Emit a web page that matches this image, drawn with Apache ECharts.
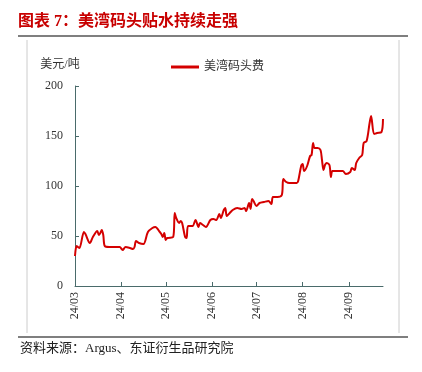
<!DOCTYPE html>
<html>
<head>
<meta charset="utf-8">
<script src="https://cdn.jsdelivr.net/npm/echarts@6/dist/echarts.min.js"></script>
<style>html,body{margin:0;padding:0;background:#fff}#c{width:422px;height:372px}</style>
</head>
<body>
<div id="c"></div>
<script>
const dates = ['2024-03-01','2024-03-02','2024-03-03','2024-03-04','2024-03-07','2024-03-08','2024-03-11','2024-03-13','2024-03-16','2024-03-17','2024-03-18','2024-03-19','2024-03-20','2024-03-21','2024-03-24','2024-03-31',
'2024-04-02','2024-04-04','2024-04-07','2024-04-09','2024-04-10','2024-04-11','2024-04-13','2024-04-16','2024-04-19','2024-04-22','2024-04-24','2024-04-27','2024-04-28','2024-04-29','2024-04-30',
'2024-05-01','2024-05-02','2024-05-06','2024-05-07','2024-05-08','2024-05-10','2024-05-11','2024-05-12','2024-05-14','2024-05-15','2024-05-16','2024-05-19','2024-05-21','2024-05-23','2024-05-24','2024-05-26','2024-05-28','2024-05-31',
'2024-06-02','2024-06-04','2024-06-06','2024-06-07','2024-06-09','2024-06-10','2024-06-11','2024-06-13','2024-06-15','2024-06-18','2024-06-21','2024-06-23','2024-06-24','2024-06-26','2024-06-27','2024-06-28','2024-06-29',
'2024-07-01','2024-07-03','2024-07-06','2024-07-09','2024-07-11','2024-07-12','2024-07-15','2024-07-18','2024-07-19','2024-07-21','2024-07-23','2024-07-28','2024-07-29','2024-07-31',
'2024-08-01','2024-08-02','2024-08-04','2024-08-06','2024-08-07','2024-08-08','2024-08-09','2024-08-11','2024-08-13','2024-08-14','2024-08-15','2024-08-16','2024-08-17','2024-08-19','2024-08-20','2024-08-21','2024-08-24','2024-08-28','2024-08-30',
'2024-09-02','2024-09-03','2024-09-05','2024-09-06','2024-09-08','2024-09-10','2024-09-11','2024-09-13','2024-09-15','2024-09-16','2024-09-18','2024-09-20','2024-09-23','2024-09-24'];
const fees = [30,40,39,38,54,52,43,49,55,51,53,56,51,40,39,39,
36,39,38,37,39,45,43,42,54,58,59,54,52,49,53,
46,48,49,73,68,63,65,63,49,48,60,60,66,59,63,61,59,66,
67,66,72,68,76,78,70,73,76,78,77,78,75,83,77,87,85,
80,83,84,85,82,89,89,91,107,104,103,103,105,120,
122,115,120,130,131,143,138,138,136,126,116,121,123,121,109,115,115,115,112,
114,118,116,123,128,131,143,145,163,170,152,153,154,167];
const yTicks = [0,50,100,150,200];
const seriesName = '美湾码头费';
const unitName = '美元/吨';
const titleText = '图表 7：美湾码头贴水持续走强';
const sourceText = '资料来源：Argus、东证衍生品研究院';

const serif = 'Liberation Serif, Noto Sans CJK SC';
const chart = echarts.init(document.getElementById('c'), null, {renderer:'canvas'});
chart.setOption({
  animation:false,
  backgroundColor:'#fff',
  grid:{left:75,right:39,top:86,bottom:86},
  legend:{
    top:56,left:166,
    icon:'rect',itemWidth:28,itemHeight:3,itemGap:5,
    textStyle:{fontSize:12,color:'#333',fontFamily:serif},
    data:[seriesName]
  },
  xAxis:{
    type:'time',
    min:'2024-03-01',max:'2024-09-24',
    splitNumber:7,
    axisLine:{lineStyle:{color:'#4a6b6b',width:1}},
    axisTick:{show:true,inside:true,length:4,lineStyle:{color:'#4a6b6b'}},
    splitLine:{show:false},
    axisLabel:{
      rotate:90,fontSize:12,color:'#333',fontFamily:serif,margin:6,
      showMinLabel:true,showMaxLabel:false,
      formatter:function(v){const d=new Date(v);const m=d.getMonth()+1;return String(d.getFullYear()%100)+'/'+(m<10?'0':'')+m;}
    }
  },
  yAxis:{
    type:'value',min:yTicks[0],max:yTicks[yTicks.length-1],interval:50,
    name:unitName,nameLocation:'end',nameGap:21,
    nameTextStyle:{fontSize:12,color:'#333',fontFamily:serif,align:'center',verticalAlign:'middle',padding:[0,30,0,0]},
    axisLine:{show:true,lineStyle:{color:'#4a6b6b',width:1}},
    axisTick:{show:true,inside:true,length:4,lineStyle:{color:'#4a6b6b'}},
    splitLine:{show:false},
    axisLabel:{fontSize:12,color:'#333',fontFamily:serif,margin:12}
  },
  series:[{
    name:seriesName,type:'line',
    data:dates.map((d,i)=>[d,fees[i]]),
    showSymbol:false,smooth:0.3,
    lineStyle:{color:'#d40000',width:2},
    itemStyle:{color:'#d40000'}
  }],
  graphic:[
    {type:'text',left:18,top:14,style:{text:titleText,fill:'#c80000',font:'bold 16px Liberation Serif, Noto Sans CJK SC'}},
    {type:'line',shape:{x1:18,y1:36,x2:408,y2:36},style:{stroke:'#000',lineWidth:1.2}},
    {type:'line',shape:{x1:27,y1:40,x2:27,y2:333},style:{stroke:'#cccccc',lineWidth:1}},
    {type:'line',shape:{x1:399,y1:40,x2:399,y2:333},style:{stroke:'#cccccc',lineWidth:1}},
    {type:'line',shape:{x1:18,y1:337,x2:408,y2:337},style:{stroke:'#000',lineWidth:1.2}},
    {type:'text',left:20,top:342,style:{text:sourceText,fill:'#222',font:'13px Liberation Serif, Noto Sans CJK SC'}}
  ]
});
</script>
</body>
</html>
